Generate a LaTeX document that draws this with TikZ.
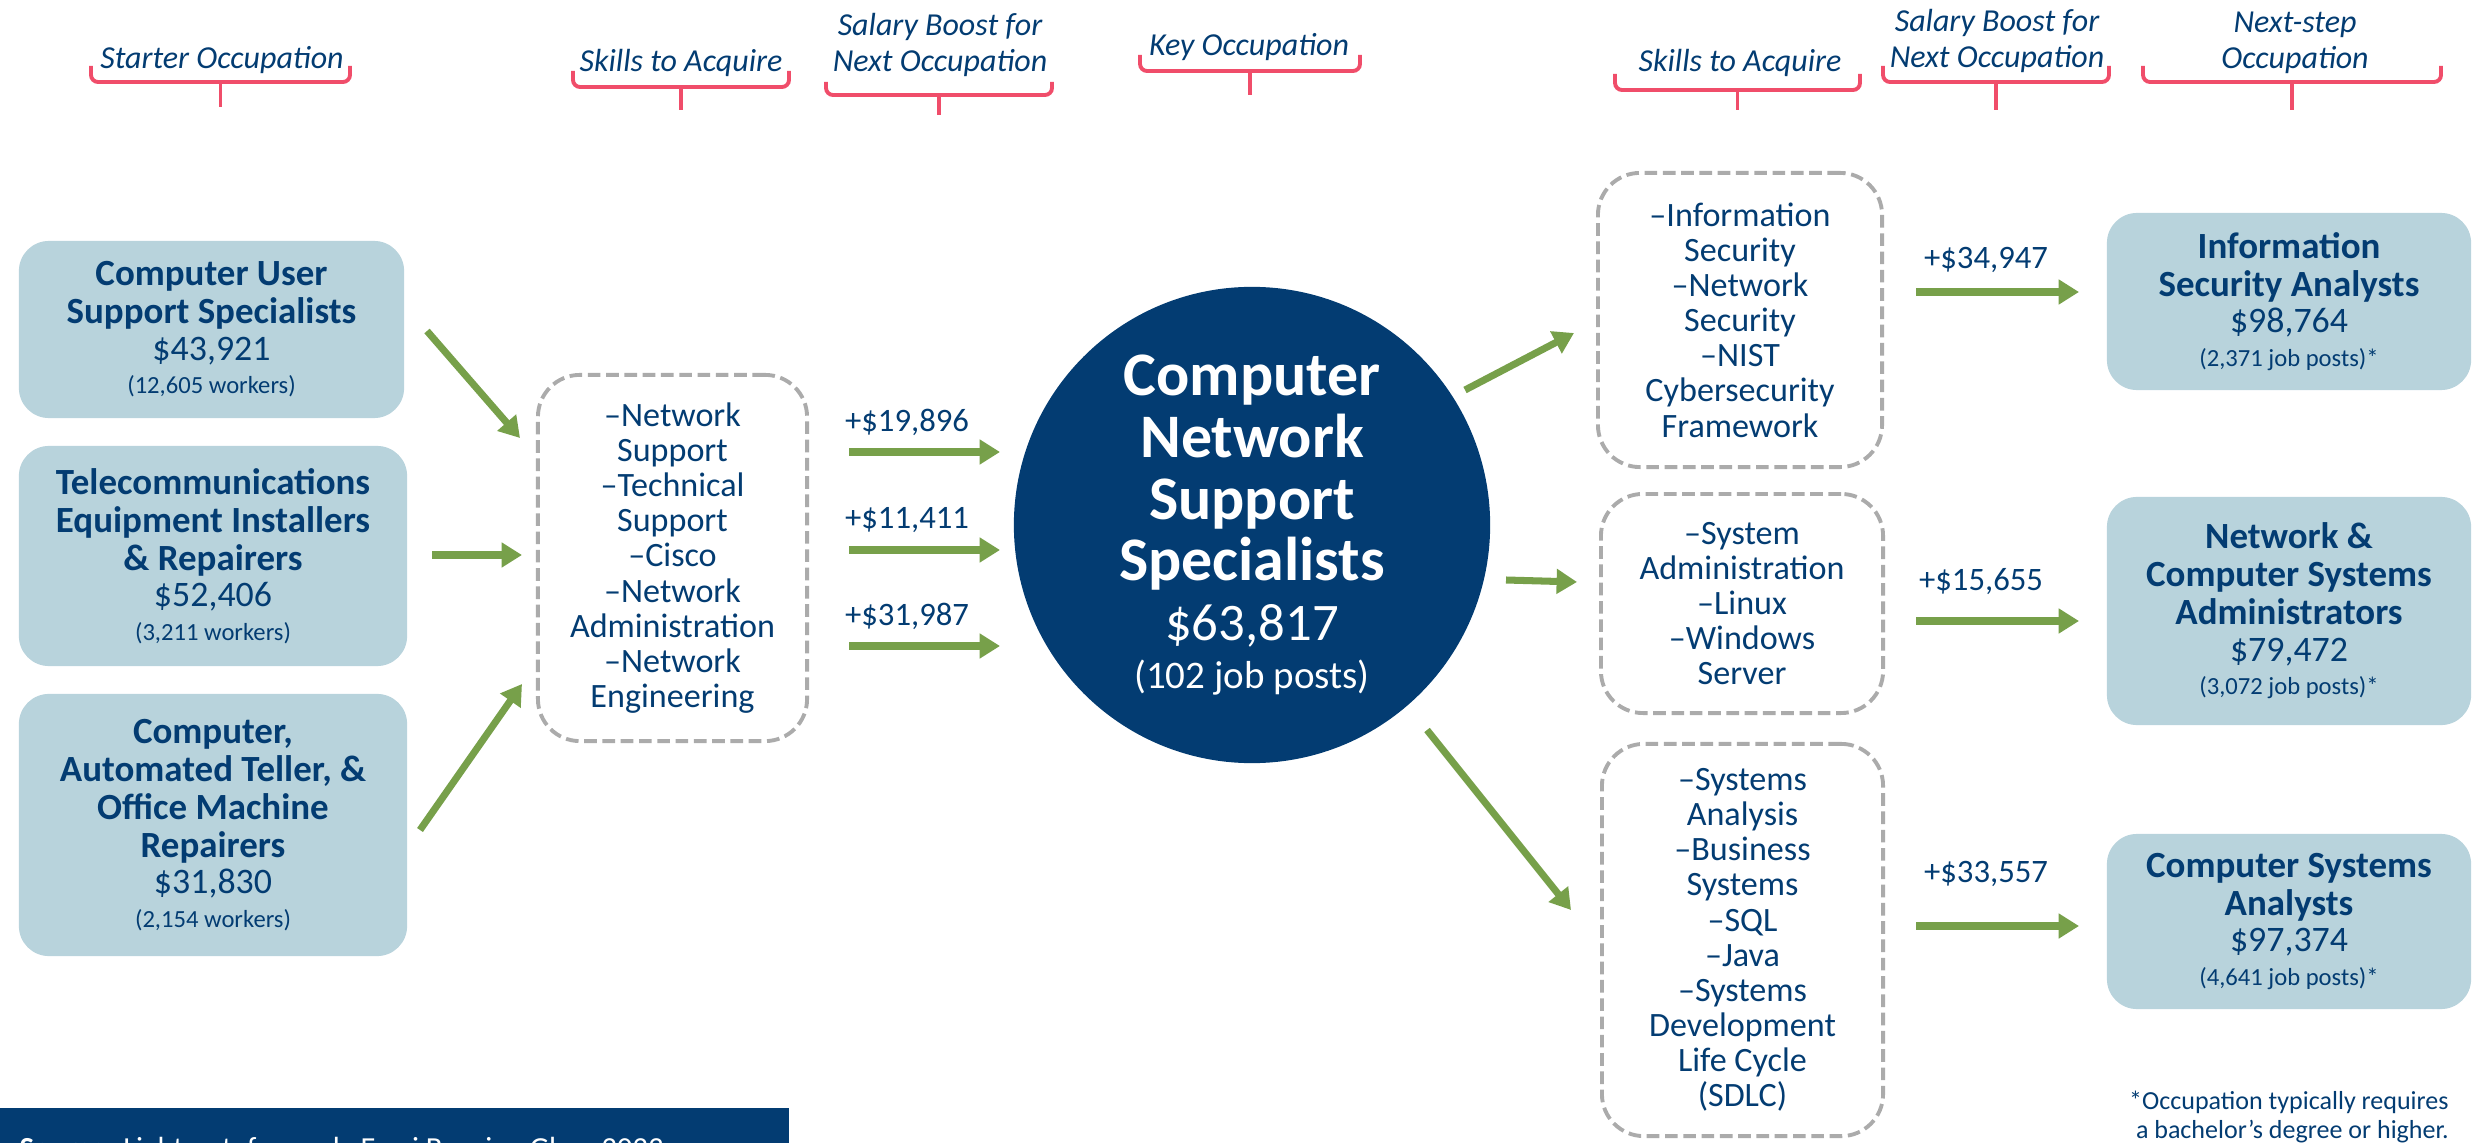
\documentclass[tikz,border=0pt]{standalone}
\usepackage{fontspec}
\setmainfont{Carlito}
\usetikzlibrary{arrows.meta}
\definecolor{navy}{HTML}{033C72}
\definecolor{boxblue}{HTML}{B8D3DC}
\definecolor{agreen}{HTML}{77A04A}
\definecolor{dgray}{HTML}{ABABAB}
\definecolor{bred}{HTML}{F04D6A}
\newcommand\occT{\fontsize{10.5}{10.8}\selectfont\bfseries}
\newcommand\occS{\fontsize{10.2}{10.8}\selectfont\mdseries}
\newcommand\occW{\fontsize{7.0}{10.8}\selectfont\mdseries}
\newcommand\keyT{\fontsize{17.6}{17.6}\selectfont\bfseries}
\newcommand\brkt[5]{%
  \draw[brk,rounded corners=2pt] (#1,#3) -- (#1,#4) -- (#2,#4) -- (#2,#3);
  \draw[brk] ({(#1+#2)/2},#4) -- ({(#1+#2)/2},#5);}
\begin{document}
\begin{tikzpicture}[x=0.01cm,y=-0.01cm,
  occbox/.style={fill=boxblue,rounded corners=0.3cm,align=center,text=navy,inner sep=0pt,
     font=\fontsize{10.5}{10.8}\selectfont},
  skillbox/.style={draw=dgray,line width=1.1pt,dash pattern=on 3.6pt off 1.6pt,rounded corners=0.42cm,
     align=center,text=navy,inner sep=0pt,font=\fontsize{9.7}{10}\selectfont},
  garrow/.style={draw=agreen,line width=2pt,-{Triangle[width=6.8pt,length=5.8pt]}},
  hdr/.style={text=navy,align=center,font=\itshape\fontsize{9.1}{10.3}\selectfont},
  brk/.style={draw=bred,line width=1.1pt},
  sal/.style={text=navy,font=\fontsize{9.3}{10}\selectfont}]
\useasboundingbox (0,0) rectangle (2473,1143);

% headers
\node[hdr] (h1) at (222,60) {Starter Occupation};
\node[hdr] (h2) at (681,63) {Skills to Acquire};
\node[hdr] (h3) at (940,45) {Salary Boost for\\Next Occupation};
\node[hdr] (h4) at (1249,47) {Key Occupation};
\node[hdr] (h5) at (1740,63) {Skills to Acquire};
\node[hdr] (h6) at (1997,41) {Salary Boost for\\Next Occupation};
\node[hdr] (h7) at (2295,43) {Next-step\\Occupation};
\brkt{91}{350}{66}{82}{107}
\brkt{573}{789}{71}{87}{110}
\brkt{826}{1052}{82}{95}{115}
\brkt{1140}{1360}{55}{71}{95}
\brkt{1615}{1860}{74}{90}{110}
\brkt{1883}{2109}{66}{82}{110}
\brkt{2143}{2441}{66}{82}{110}

% starter occupations
\node[occbox,minimum width=3.85cm,minimum height=1.77cm] (b1) at (211.5,329.5)
  {\occT Computer User\\\occT Support Specialists\\[-0.5pt]\occS \$43,921\\[-1.2pt]\occW (12,605 workers)};
\node[occbox,minimum width=3.88cm,minimum height=2.20cm] (b2) at (213,556)
  {\occT Telecommunications\\\occT Equipment Installers\\\occT \& Repairers\\[-0.5pt]\occS \$52,406\\[-1.2pt]\occW (3,211 workers)};
\node[occbox,minimum width=3.88cm,minimum height=2.62cm] (b3) at (213,825)
  {\occT Computer,\\\occT Automated Teller, \&\\\occT Office Machine\\\occT Repairers\\[-0.5pt]\occS \$31,830\\[-1.2pt]\occW (2,154 workers)};

% skills left
\node[skillbox,minimum width=2.69cm,minimum height=3.66cm] (sk1) at (672.5,558)
  {–Network\\Support\\–Technical\\Support\\–Cisco\\–Network\\Administration\\–Network\\Engineering};

% key occupation
\node[circle,fill=navy,text=white,minimum size=4.76cm,inner sep=0pt,align=center,
      font=\fontsize{17.6}{17.6}\selectfont] (key) at (1252,525)
  {\keyT Computer\\\keyT Network\\\keyT Support\\\keyT Specialists\\[-0.6pt]
   \fontsize{15}{17}\selectfont \$63,817\\[-4pt]\fontsize{11.1}{13.1}\selectfont (102 job posts)};

% salary labels left
\node[sal] (l1) at (907,422) {+\$19,896};
\node[sal] (l2) at (907,520) {+\$11,411};
\node[sal] (l3) at (907,616) {+\$31,987};

% skills right
\node[skillbox,minimum width=2.84cm,minimum height=2.94cm] (sk2) at (1740,320)
  {–Information\\Security\\–Network\\Security\\–NIST\\Cybersecurity\\Framework};
\node[skillbox,minimum width=2.82cm,minimum height=2.19cm] (sk3) at (1742,603.5)
  {–System\\Administration\\–Linux\\–Windows\\Server};
\node[skillbox,minimum width=2.81cm,minimum height=3.92cm] (sk4) at (1742.5,940)
  {–Systems\\Analysis\\–Business\\Systems\\–SQL\\–Java\\–Systems\\Development\\Life Cycle\\(SDLC)};

% salary labels right
\node[sal] (r1) at (1986,260) {+\$34,947};
\node[sal] (r2) at (1981,582) {+\$15,655};
\node[sal] (r3) at (1986,874) {+\$33,557};

% next-step occupations
\node[occbox,minimum width=3.64cm,minimum height=1.77cm] (n1) at (2289,301.5)
  {\occT Information\\\occT Security Analysts\\[-0.5pt]\occS \$98,764\\[-1.2pt]\occW (2,371 job posts)*};
\node[occbox,minimum width=3.64cm,minimum height=2.28cm] (n2) at (2289,611)
  {\occT Network \&\\\occT Computer Systems\\\occT Administrators\\[-0.5pt]\occS \$79,472\\[-1.2pt]\occW (3,072 job posts)*};
\node[occbox,minimum width=3.64cm,minimum height=1.75cm] (n3) at (2289,921.5)
  {\occT Computer Systems\\\occT Analysts\\[-0.5pt]\occS \$97,374\\[-1.2pt]\occW (4,641 job posts)*};

% arrow end points
\coordinate (a1s) at (427,331); \coordinate (a1e) at (520,438);
\coordinate (a2s) at (432,555); \coordinate (a2e) at (522,555);
\coordinate (a3s) at (420,830); \coordinate (a3e) at (522,684);
\coordinate (s1s) at (849,452); \coordinate (s1e) at (1000,452);
\coordinate (s2s) at (849,550); \coordinate (s2e) at (1000,550);
\coordinate (s3s) at (849,646); \coordinate (s3e) at (1000,646);
\coordinate (c1s) at (1465,390); \coordinate (c1e) at (1574,333);
\coordinate (c2s) at (1506,580); \coordinate (c2e) at (1577,582);
\coordinate (c3s) at (1427,730); \coordinate (c3e) at (1571,910);
\coordinate (t1s) at (1916,292); \coordinate (t1e) at (2079,292);
\coordinate (t2s) at (1916,621); \coordinate (t2e) at (2079,621);
\coordinate (t3s) at (1916,926); \coordinate (t3e) at (2079,926);
\foreach \p in {a1,a2,a3,s1,s2,s3,c1,c2,c3,t1,t2,t3}
  \draw[garrow] (\p s) -- (\p e);

% footnote
\node[text=navy,align=right,anchor=east,font=\fontsize{7.4}{8.2}\selectfont] (fn) at (2461,1117)
  {*Occupation typically requires\\a bachelor’s degree or higher.};

% source bar
\begin{scope}
\clip (0,0) rectangle (2473,1143);
\fill[navy] (0,1108) rectangle (789,1160);
\node[text=white,anchor=base west,inner sep=0pt,font=\fontsize{8.7}{9}\selectfont] (src) at (19,1158)
  {\textbf{Source:} Lightcast, formerly Emsi Burning Glass 2023};
\end{scope}
\end{tikzpicture}
\end{document}
